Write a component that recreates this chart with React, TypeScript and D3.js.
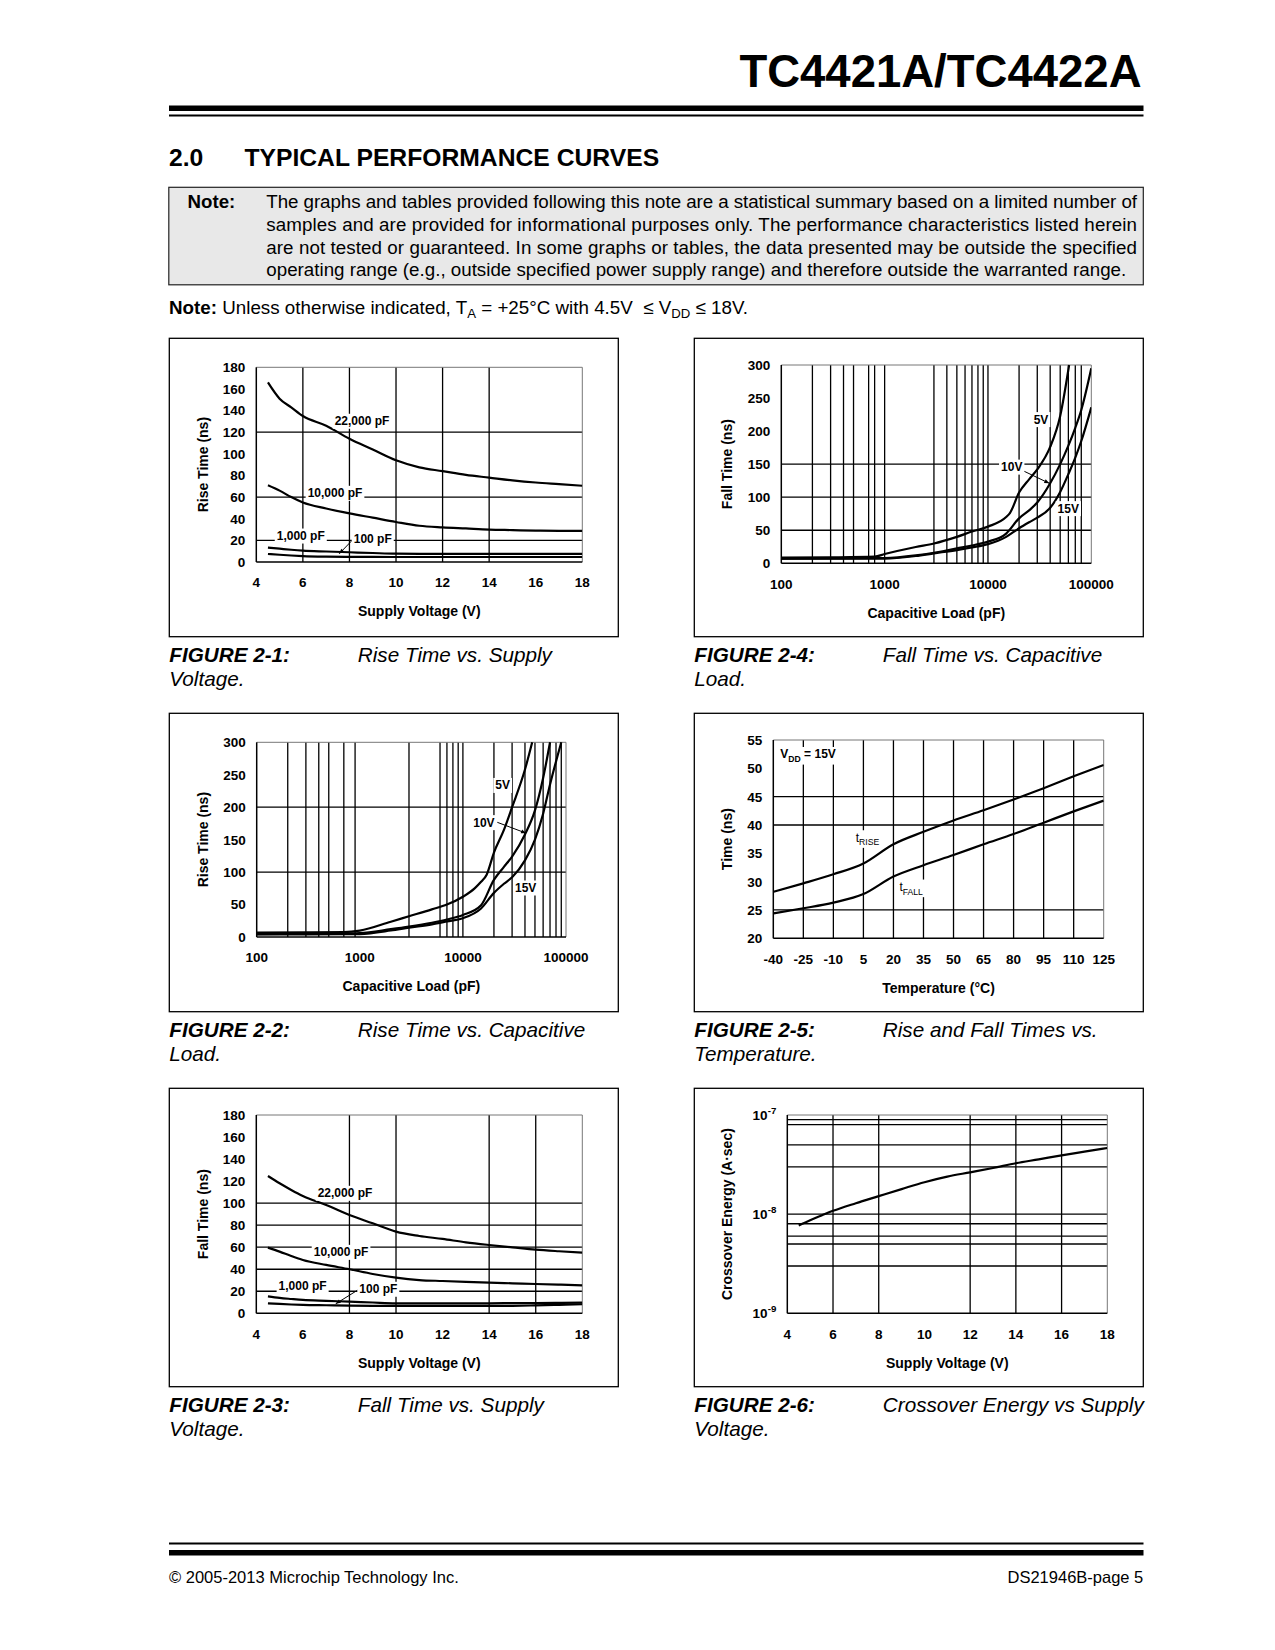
import React, { useEffect, useRef } from 'react';
import * as d3 from 'd3';

const FONT = '"Liberation Sans", Arial, Helvetica, sans-serif';

// ---------- Figure 2-1: Rise Time vs. Supply Voltage ----------
const supplyVoltage = [4.5, 5, 5.5, 6, 7, 8, 9, 10, 11, 12, 13, 14, 15, 16, 17, 18];
const rise22000pF = [166, 151, 143, 135, 126, 114, 104, 94, 87.5, 84, 80.5, 78, 75.5, 73.5, 72, 70.5];
const rise10000pF = [71, 66, 60, 55, 49.5, 45, 41, 37, 33.5, 32, 31, 30, 29.5, 29, 28.8, 28.7];
const rise1000pF = [13.3, 12.3, 11.3, 10.5, 9.7, 9, 8.3, 7.7, 7.6, 7.6, 7.6, 7.6, 7.6, 7.6, 7.6, 7.6];
const rise100pF = [7.4, 6.7, 6, 5.5, 5, 4.8, 4.7, 4.6, 4.6, 4.6, 4.6, 4.6, 4.6, 4.6, 4.6, 4.6];

// ---------- Figure 2-3: Fall Time vs. Supply Voltage ----------
const fall22000pF = [124.6, 118, 112, 106.5, 98.3, 89.2, 81.7, 74.1, 70.2, 67.5, 64.4, 62, 59.9, 57.8, 56.3, 55];
const fall10000pF = [59.6, 56, 52, 48.4, 43.9, 40, 35.7, 32.4, 30.2, 29.3, 28.5, 27.8, 27.2, 26.6, 26, 25.4];
const fall1000pF = [15.4, 14, 13, 12.1, 11.3, 10.6, 9.8, 9.1, 9.1, 9.1, 9.1, 9.1, 9.2, 9.3, 9.5, 9.7];
const fall100pF = [9.1, 8.5, 8, 7.6, 7.3, 7, 6.8, 6.7, 6.7, 6.7, 6.7, 6.7, 6.8, 7.2, 7.7, 8.2];

// ---------- Figure 2-2: Rise Time vs. Capacitive Load ----------
const riseLoad5V = [100, 300, 700, 1000, 2000, 3000, 5000, 7000, 10000, 13000, 15000, 17000, 20000, 25000, 30000, 40000, 47000];
const rise5V = [6.7, 7, 7.5, 9.8, 23.6, 32, 42.6, 50, 62, 75, 85, 96, 130, 165, 200, 258, 300];
const riseLoad10V = [100, 300, 700, 1000, 2000, 3000, 5000, 7000, 10000, 15000, 20000, 25000, 30000, 40000, 50000, 60000, 70000];
const rise10V = [4.5, 5, 5.5, 6, 12, 16, 22, 27, 34, 49, 88, 108, 124, 158, 195, 245, 300];
const riseLoad15V = [100, 300, 700, 1000, 2000, 3000, 5000, 7000, 10000, 15000, 20000, 25000, 30000, 40000, 50000, 60000, 70000, 90000];
const rise15V = [4, 4, 4.2, 4.5, 10, 14.4, 19.5, 24, 29, 44, 68, 82, 92, 118, 150, 190, 235, 300];

// ---------- Figure 2-4: Fall Time vs. Capacitive Load ----------
const fallLoad5V = [100, 300, 800, 1000, 2000, 3000, 5000, 7000, 10000, 15000, 16300, 20000, 25000, 30000, 40000, 50000, 61000];
const fall5V = [8.6, 9, 10, 14, 24.7, 30, 40, 48, 55.5, 70, 76, 107, 127, 142, 176, 223, 300];
const fallLoad10V = [100, 300, 1000, 2000, 3000, 5000, 7000, 10000, 15000, 20000, 25000, 30000, 40000, 50000, 60000, 70000, 80000, 100000];
const fall10V = [7, 7.3, 8, 12, 16, 22.7, 27, 32.8, 45, 68, 80, 92, 121, 150, 178, 205, 232, 295];
const fallLoad15V = [100, 300, 1000, 2000, 3000, 5000, 7000, 10000, 15000, 20000, 25000, 30000, 40000, 50000, 60000, 70000, 80000, 100000];
const fall15V = [7, 7, 7, 11, 15, 20, 24, 29, 40, 53, 62, 69, 84, 108, 135, 160, 185, 236];

// ---------- Figure 2-5: Rise and Fall Times vs. Temperature ----------
const temperature = [-40, -25, -10, 5, 20, 35, 50, 65, 80, 95, 110, 125];
const tRise = [28.2, 29.7, 31.3, 33.2, 36.6, 38.8, 40.8, 42.6, 44.5, 46.5, 48.6, 50.6];
const tFall = [24.4, 25.3, 26.3, 27.8, 30.9, 32.9, 34.7, 36.6, 38.4, 40.4, 42.4, 44.3];

// ---------- Figure 2-6: Crossover Energy vs Supply Voltage ----------
const crossoverEnergy = [7.7e-9, 8.7e-9, 9.7e-9, 1.08e-8, 1.29e-8, 1.52e-8, 1.79e-8, 2.1e-8, 2.39e-8, 2.64e-8, 2.92e-8, 3.26e-8, 3.57e-8, 3.92e-8, 4.27e-8, 4.65e-8];

// ---------- tick labels ----------
const voltTicks = [4, 6, 8, 10, 12, 14, 16, 18];
const nsTicks180 = [0, 20, 40, 60, 80, 100, 120, 140, 160, 180];
const nsTicks300 = [0, 50, 100, 150, 200, 250, 300];
const loadTicks = [100, 1000, 10000, 100000];
const timeTicks55 = [20, 25, 30, 35, 40, 45, 50, 55];
const energyTicks = [1e-9, 1e-8, 1e-7];

type Part = { t: string; sub?: boolean; sup?: boolean };
type Label = { parts: Part[]; x: number; y: number; anchor: string; size?: number; weight?: string };

interface ChartCfg {
  id: string;
  box: number[];
  plot: number[];
  xLog?: boolean;
  yLog?: boolean;
  xDomain: [number, number];
  yDomain: [number, number];
  gridX: number[];
  gridY: number[];
  xTicks: number[];
  yTicks: number[];
  yTickParts: (v: number) => Part[];
  xTitle: string;
  yTitle: string;
  yTitleX: number;
  xTitleY: number;
  series: { x: number[]; y: number[] }[];
  labels: Label[];
  leaders: number[][][];
}

const plain = (s: string): Part[] => [{ t: s }];

const charts: ChartCfg[] = [
  {
    id: 'f1',
    box: [169.3, 338.3, 618.3, 636.7],
    plot: [256.3, 367.3, 582.3, 562],
    xDomain: [4, 18], yDomain: [0, 180],
    gridX: [6, 8, 10, 12, 14], gridY: [20, 60, 120],
    xTicks: voltTicks, yTicks: nsTicks180,
    yTickParts: (v) => plain(String(v)),
    xTitle: 'Supply Voltage (V)', yTitle: 'Rise Time (ns)', yTitleX: 203.3, xTitleY: 611,
    series: [
      { x: supplyVoltage, y: rise22000pF },
      { x: supplyVoltage, y: rise10000pF },
      { x: supplyVoltage, y: rise1000pF },
      { x: supplyVoltage, y: rise100pF },
    ],
    labels: [
      { parts: plain('22,000 pF'), x: 8.54, y: 130.4, anchor: 'middle' },
      { parts: plain('10,000 pF'), x: 7.38, y: 63.8, anchor: 'middle' },
      { parts: plain('1,000 pF'), x: 5.91, y: 24.3, anchor: 'middle' },
      { parts: plain('100 pF'), x: 9.0, y: 21.3, anchor: 'middle' },
    ],
    leaders: [[[8.16, 21], [7.56, 7.6]]],
  },
  {
    id: 'f2',
    box: [169.3, 713.3, 618.3, 1011.7],
    plot: [256.7, 742.3, 566, 937],
    xLog: true,
    xDomain: [100, 100000], yDomain: [0, 300],
    gridX: [200, 300, 400, 500, 700, 900, 3000, 6000, 7000, 8000, 9000, 10000, 20000, 30000, 40000, 50000, 60000, 70000, 80000, 90000],
    gridY: [100, 200],
    xTicks: loadTicks, yTicks: nsTicks300,
    yTickParts: (v) => plain(String(v)),
    xTitle: 'Capacitive Load (pF)', yTitle: 'Rise Time (ns)', yTitleX: 203.3, xTitleY: 986,
    series: [
      { x: riseLoad5V, y: rise5V },
      { x: riseLoad10V, y: rise10V },
      { x: riseLoad15V, y: rise15V },
    ],
    labels: [
      { parts: plain('5V'), x: 24300, y: 234, anchor: 'middle' },
      { parts: plain('10V'), x: 16000, y: 176.7, anchor: 'middle' },
      { parts: plain('15V'), x: 40640, y: 76, anchor: 'middle' },
    ],
    leaders: [[[21570, 176.7], [41000, 160]]],
  },
  {
    id: 'f3',
    box: [169.3, 1088.3, 618.3, 1386.7],
    plot: [256.3, 1115, 582.3, 1313.3],
    xDomain: [4, 18], yDomain: [0, 180],
    gridX: [8, 10, 14, 16], gridY: [20, 40, 60, 80, 100],
    xTicks: voltTicks, yTicks: nsTicks180,
    yTickParts: (v) => plain(String(v)),
    xTitle: 'Supply Voltage (V)', yTitle: 'Fall Time (ns)', yTitleX: 202.7, xTitleY: 1363.3,
    series: [
      { x: supplyVoltage, y: fall22000pF },
      { x: supplyVoltage, y: fall10000pF },
      { x: supplyVoltage, y: fall1000pF },
      { x: supplyVoltage, y: fall100pF },
    ],
    labels: [
      { parts: plain('22,000 pF'), x: 7.81, y: 109.2, anchor: 'middle' },
      { parts: plain('10,000 pF'), x: 7.64, y: 55.6, anchor: 'middle' },
      { parts: plain('1,000 pF'), x: 5.99, y: 25, anchor: 'middle' },
      { parts: plain('100 pF'), x: 9.24, y: 22.1, anchor: 'middle' },
    ],
    leaders: [[[8.41, 21.8], [7.41, 8.6]]],
  },
  {
    id: 'f4',
    box: [694.3, 338.3, 1143.3, 636.7],
    plot: [781.3, 365, 1091.3, 563.3],
    xLog: true,
    xDomain: [100, 100000], yDomain: [0, 300],
    gridX: [200, 300, 400, 500, 700, 800, 1000, 3000, 4000, 5000, 6000, 7000, 8000, 9000, 10000, 20000, 30000, 40000, 50000, 60000, 70000, 80000],
    gridY: [50, 100, 150],
    xTicks: loadTicks, yTicks: nsTicks300,
    yTickParts: (v) => plain(String(v)),
    xTitle: 'Capacitive Load (pF)', yTitle: 'Fall Time (ns)', yTitleX: 726.7, xTitleY: 613.3,
    series: [
      { x: fallLoad5V, y: fall5V },
      { x: fallLoad10V, y: fall10V },
      { x: fallLoad15V, y: fall15V },
    ],
    labels: [
      { parts: plain('5V'), x: 32600, y: 217.9, anchor: 'middle' },
      { parts: plain('10V'), x: 16980, y: 146, anchor: 'middle' },
      { parts: plain('15V'), x: 59900, y: 83.2, anchor: 'middle' },
    ],
    leaders: [[[21220, 141], [39240, 121]]],
  },
  {
    id: 'f5',
    box: [694.3, 713.3, 1143.3, 1011.7],
    plot: [773.3, 740, 1103.7, 938.3],
    xDomain: [-40, 125], yDomain: [20, 55],
    gridX: [-25, -10, 5, 20, 35, 50, 65, 80, 95, 110], gridY: [25, 40, 45],
    xTicks: temperature, yTicks: timeTicks55,
    yTickParts: (v) => plain(String(v)),
    xTitle: 'Temperature (°C)', yTitle: 'Time (ns)', yTitleX: 726.7, xTitleY: 988.3,
    series: [
      { x: temperature, y: tRise },
      { x: temperature, y: tFall },
    ],
    labels: [
      { parts: [{ t: 'V' }, { t: 'DD', sub: true }, { t: ' = 15V' }], x: -36.5, y: 52.5, anchor: 'start' },
      { parts: [{ t: 't' }, { t: 'RISE', sub: true }], x: 1.15, y: 37.8, anchor: 'start', weight: 'normal' },
      { parts: [{ t: 't' }, { t: 'FALL', sub: true }], x: 23, y: 29.1, anchor: 'start', weight: 'normal' },
    ],
    leaders: [],
  },
  {
    id: 'f6',
    box: [694.3, 1088.3, 1143.3, 1386.7],
    plot: [787.3, 1115, 1107.3, 1313.3],
    yLog: true,
    xDomain: [4, 18], yDomain: [1e-9, 1e-7],
    gridX: [6, 8, 12, 14, 16],
    gridY: [3e-9, 5e-9, 6e-9, 8e-9, 1e-8, 3e-8, 5e-8, 8e-8, 9e-8],
    xTicks: voltTicks, yTicks: energyTicks,
    yTickParts: (v) => [{ t: '10' }, { t: String(Math.round(Math.log10(v))), sup: true }],
    xTitle: 'Supply Voltage (V)', yTitle: 'Crossover Energy (A·sec)', yTitleX: 726.7, xTitleY: 1363.3,
    series: [{ x: supplyVoltage, y: crossoverEnergy }],
    labels: [],
    leaders: [],
  },
];

const captions = [
  { fig: 'FIGURE 2-1:', title: 'Rise Time vs. Supply', cont: 'Voltage.', x: 169.3, y: 636.7 },
  { fig: 'FIGURE 2-4:', title: 'Fall Time vs. Capacitive', cont: 'Load.', x: 694.3, y: 636.7 },
  { fig: 'FIGURE 2-2:', title: 'Rise Time vs. Capacitive', cont: 'Load.', x: 169.3, y: 1011.7 },
  { fig: 'FIGURE 2-5:', title: 'Rise and Fall Times vs.', cont: 'Temperature.', x: 694.3, y: 1011.7 },
  { fig: 'FIGURE 2-3:', title: 'Fall Time vs. Supply', cont: 'Voltage.', x: 169.3, y: 1386.7 },
  { fig: 'FIGURE 2-6:', title: 'Crossover Energy vs Supply', cont: 'Voltage.', x: 694.3, y: 1386.7 },
];

const noteLines = [
  'The graphs and tables provided following this note are a statistical summary based on a limited number of',
  'samples and are provided for informational purposes only. The performance characteristics listed herein',
  'are not tested or guaranteed. In some graphs or tables, the data presented may be outside the specified',
  'operating range (e.g., outside specified power supply range) and therefore outside the warranted range.',
];

type Sel = d3.Selection<any, any, any, any>;

function addParts(text: Sel, parts: Part[], size: number) {
  let shift = 0;
  parts.forEach((p) => {
    const target = p.sub ? size * 0.3 : p.sup ? -size * 0.45 : 0;
    const ts = text.append('tspan').text(p.t);
    if (target !== shift) ts.attr('dy', target - shift);
    shift = target;
    if (p.sub || p.sup) ts.attr('font-size', size * 0.72);
  });
}

function drawChart(root: Sel, c: ChartCfg) {
  const g = root.append('g');
  const [bx0, by0, bx1, by1] = c.box;
  g.append('rect').attr('x', bx0).attr('y', by0).attr('width', bx1 - bx0).attr('height', by1 - by0)
    .attr('fill', '#fff').attr('stroke', '#000').attr('stroke-width', 1.3);
  const [L, T, R, B] = c.plot;
  const x: any = c.xLog ? d3.scaleLog().domain(c.xDomain).range([L, R]) : d3.scaleLinear().domain(c.xDomain).range([L, R]);
  const y: any = c.yLog ? d3.scaleLog().domain(c.yDomain).range([B, T]) : d3.scaleLinear().domain(c.yDomain).range([B, T]);

  // grid
  g.append('g').selectAll('line').data(c.gridX).join('line')
    .attr('x1', (d: number) => x(d)).attr('x2', (d: number) => x(d)).attr('y1', T).attr('y2', B)
    .attr('stroke', '#000').attr('stroke-width', 1.3);
  g.append('g').selectAll('line').data(c.gridY).join('line')
    .attr('y1', (d: number) => y(d)).attr('y2', (d: number) => y(d)).attr('x1', L).attr('x2', R)
    .attr('stroke', '#000').attr('stroke-width', 1.3);
  // frame
  g.append('line').attr('x1', L).attr('x2', R).attr('y1', T).attr('y2', T).attr('stroke', '#777').attr('stroke-width', 1);
  g.append('line').attr('x1', R).attr('x2', R).attr('y1', T).attr('y2', B).attr('stroke', '#777').attr('stroke-width', 1);
  g.append('line').attr('x1', L).attr('x2', L).attr('y1', T).attr('y2', B).attr('stroke', '#000').attr('stroke-width', 1.5);
  g.append('line').attr('x1', L).attr('x2', R).attr('y1', B).attr('y2', B).attr('stroke', '#000').attr('stroke-width', 1.5);

  // series
  const clipId = 'clip-' + c.id;
  g.append('clipPath').attr('id', clipId).append('rect')
    .attr('x', L).attr('y', T - 0.5).attr('width', R - L).attr('height', B - T + 1);
  const line = d3.line<[number, number]>().x((d) => x(d[0])).y((d) => y(d[1])).curve(d3.curveMonotoneX);
  c.series.forEach((s) => {
    g.append('path').attr('d', line(d3.zip(s.x, s.y) as [number, number][]) || '')
      .attr('fill', 'none').attr('stroke', '#000').attr('stroke-width', 2.2)
      .attr('stroke-linejoin', 'round').attr('clip-path', `url(#${clipId})`);
  });

  // leaders
  c.leaders.forEach((ld) => {
    const [p0, p1] = ld;
    const x0 = x(p0[0]), y0 = y(p0[1]), x1 = x(p1[0]), y1 = y(p1[1]);
    g.append('line').attr('x1', x0).attr('y1', y0).attr('x2', x1).attr('y2', y1)
      .attr('stroke', '#000').attr('stroke-width', 1);
    const ang = Math.atan2(y1 - y0, x1 - x0);
    const len = 5, w = 2;
    const ax = x1 - len * Math.cos(ang), ay = y1 - len * Math.sin(ang);
    const nx = -Math.sin(ang) * w, ny = Math.cos(ang) * w;
    g.append('path').attr('d', `M${x1},${y1}L${ax + nx},${ay + ny}L${ax - nx},${ay - ny}Z`).attr('fill', '#000');
  });

  // labels with white boxes
  c.labels.forEach((lb) => {
    const size = lb.size || 12;
    const lg = g.append('g');
    const t = lg.append('text').attr('x', x(lb.x)).attr('y', y(lb.y)).attr('dy', '0.36em')
      .attr('text-anchor', lb.anchor).attr('font-family', FONT).attr('font-size', size)
      .attr('font-weight', lb.weight || 'bold');
    addParts(t, lb.parts, size);
    const bb = (t.node() as SVGTextElement).getBBox();
    lg.insert('rect', 'text').attr('x', bb.x - 2).attr('y', bb.y - 0.5).attr('width', bb.width + 4).attr('height', bb.height + 1)
      .attr('fill', '#fff');
  });

  // ticks
  c.xTicks.forEach((v) => {
    g.append('text').attr('x', x(v)).attr('y', B + 20.5).attr('dy', '0.36em').attr('text-anchor', 'middle')
      .attr('font-family', FONT).attr('font-size', 13.5).attr('font-weight', 'bold').text(String(v));
  });
  c.yTicks.forEach((v) => {
    const t = g.append('text').attr('x', L - 11).attr('y', y(v)).attr('dy', '0.36em').attr('text-anchor', 'end')
      .attr('font-family', FONT).attr('font-size', 13.5).attr('font-weight', 'bold');
    addParts(t, c.yTickParts(v), 13.5);
  });

  // titles
  g.append('text').attr('x', (L + R) / 2).attr('y', c.xTitleY).attr('dy', '0.36em').attr('text-anchor', 'middle')
    .attr('font-family', FONT).attr('font-size', 14).attr('font-weight', 'bold').text(c.xTitle);
  g.append('text').attr('transform', `translate(${c.yTitleX},${(T + B) / 2}) rotate(-90)`).attr('dy', '0.36em')
    .attr('text-anchor', 'middle').attr('font-family', FONT).attr('font-size', 14).attr('font-weight', 'bold').text(c.yTitle);
}

function drawPage(svg: Sel) {
  svg.selectAll('*').remove();
  svg.append('rect').attr('width', 1275).attr('height', 1650).attr('fill', '#fff');

  svg.append('text').attr('x', 1141.5).attr('y', 86.5).attr('text-anchor', 'end').attr('font-family', FONT)
    .attr('font-size', 45.5).attr('font-weight', 'bold').text('TC4421A/TC4422A');
  svg.append('rect').attr('x', 169).attr('y', 105.5).attr('width', 974.5).attr('height', 5.5).attr('fill', '#000');
  svg.append('rect').attr('x', 169).attr('y', 114.5).attr('width', 974.5).attr('height', 2).attr('fill', '#000');

  svg.append('text').attr('x', 169).attr('y', 166).attr('font-family', FONT).attr('font-size', 24.7)
    .attr('font-weight', 'bold').text('2.0');
  svg.append('text').attr('x', 244.4).attr('y', 166).attr('font-family', FONT).attr('font-size', 24.7)
    .attr('font-weight', 'bold').text('TYPICAL PERFORMANCE CURVES');

  svg.append('rect').attr('x', 168.8).attr('y', 187.3).attr('width', 974.5).attr('height', 97.5)
    .attr('fill', '#e8e8e8').attr('stroke', '#222').attr('stroke-width', 1.2);
  svg.append('text').attr('x', 187.5).attr('y', 208).attr('font-family', FONT).attr('font-size', 18.7)
    .attr('font-weight', 'bold').text('Note:');
  noteLines.forEach((ln, i) => {
    const t = svg.append('text').attr('x', 266.3).attr('y', 208 + i * 22.8).attr('font-family', FONT)
      .attr('font-size', 18.75).text(ln);
    if (i < 3) t.attr('textLength', 870.7).attr('lengthAdjust', 'spacing');
  });

  const n2 = svg.append('text').attr('x', 169).attr('y', 313.5).attr('font-family', FONT).attr('font-size', 18.8)
    .attr('xml:space', 'preserve');
  n2.append('tspan').attr('font-weight', 'bold').text('Note:');
  n2.append('tspan').text(' Unless otherwise indicated, T');
  n2.append('tspan').attr('font-size', 13.2).attr('dy', 4.5).text('A');
  n2.append('tspan').attr('dy', -4.5).text(' = +25°C with 4.5V  \u2264 V');
  n2.append('tspan').attr('font-size', 13.2).attr('dy', 4.5).text('DD');
  n2.append('tspan').attr('dy', -4.5).text(' \u2264 18V.');

  charts.forEach((c) => drawChart(svg, c));

  captions.forEach((cp) => {
    const yb = cp.y + 25;
    svg.append('text').attr('x', cp.x).attr('y', yb).attr('font-family', FONT).attr('font-size', 20.7)
      .attr('font-weight', 'bold').attr('font-style', 'italic').text(cp.fig);
    svg.append('text').attr('x', cp.x + 188.5).attr('y', yb).attr('font-family', FONT).attr('font-size', 20.7)
      .attr('font-style', 'italic').text(cp.title);
    svg.append('text').attr('x', cp.x).attr('y', yb + 24).attr('font-family', FONT).attr('font-size', 20.7)
      .attr('font-style', 'italic').text(cp.cont);
  });

  svg.append('rect').attr('x', 169).attr('y', 1542.5).attr('width', 974.5).attr('height', 2).attr('fill', '#000');
  svg.append('rect').attr('x', 169).attr('y', 1550).attr('width', 974.5).attr('height', 5.5).attr('fill', '#000');
  svg.append('text').attr('x', 169).attr('y', 1583).attr('font-family', FONT).attr('font-size', 16.5)
    .text('© 2005-2013 Microchip Technology Inc.');
  svg.append('text').attr('x', 1143.3).attr('y', 1583).attr('text-anchor', 'end').attr('font-family', FONT)
    .attr('font-size', 16.5).text('DS21946B-page 5');
}

export default function App() {
  const ref = useRef<SVGSVGElement>(null);
  useEffect(() => {
    if (ref.current) drawPage(d3.select(ref.current));
  }, []);
  return (
    <svg
      ref={ref}
      width={1275}
      height={1650}
      viewBox="0 0 1275 1650"
      style={{ position: 'absolute', left: 0, top: 0, display: 'block', background: '#fff' }}
    />
  );
}
